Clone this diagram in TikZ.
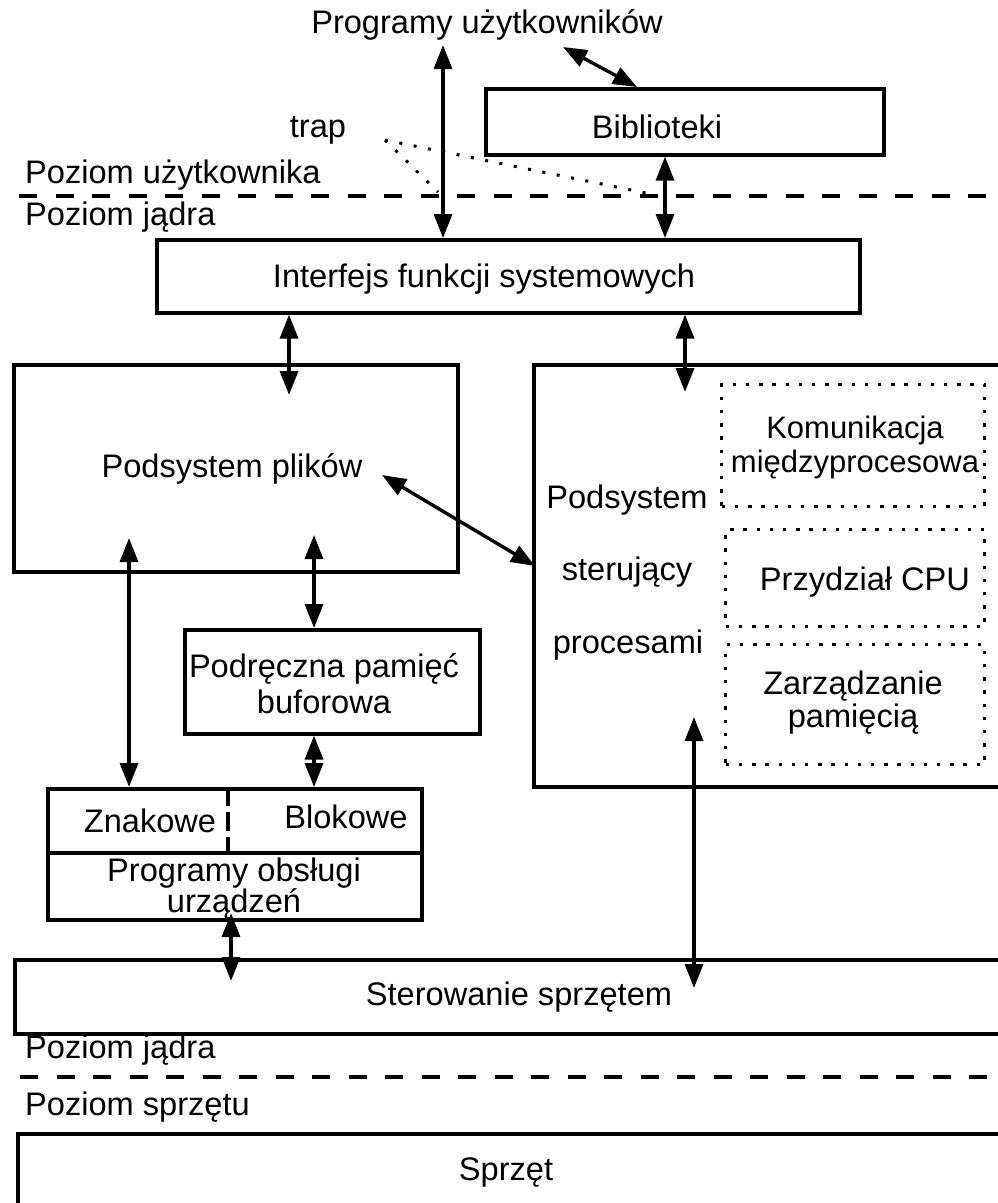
\documentclass[tikz,border=0pt]{standalone}
\usepackage{fontspec}
\setmainfont{Liberation Sans}
\usetikzlibrary{arrows.meta}
\usetikzlibrary{positioning}

\tikzset{
  box/.style={draw,line width=3.6pt,inner sep=0pt,anchor=north west},
  dotbox/.style={draw,line width=3.4pt,dash pattern=on 3.4pt off 9.8pt,inner sep=0pt,anchor=north west},
  level/.style={line width=3.6pt,dash pattern=on 18pt off 18.5pt},
  trapline/.style={line width=3pt,dash pattern=on 3pt off 11.6pt},
  both/.style={line width=3.4pt,{Triangle[length=24pt,width=18pt]}-{Triangle[length=24pt,width=18pt]}},
  lbl/.style={font=\fontsize{32.6}{36}\selectfont,inner sep=0pt,anchor=base},
  txt/.style={font=\fontsize{32.6}{36}\selectfont,inner sep=0pt,align=center},
}

\begin{document}
\begin{tikzpicture}[x=1pt,y=-1pt]
  \useasboundingbox (0,0) rectangle (998,1203);
  \clip (0,0) rectangle (998,1203);

  % poziom uzytkownika
  \node[lbl] (users) at (487,33) {Programy użytkowników};
  \node[box,minimum width=398,minimum height=66] (lib) at (484,87) {};
  \node[lbl] (libtxt) at (657,138) {Biblioteki};
  \node[lbl] (trap) at (318,137) {trap};
  \node[lbl,anchor=base west] (lvlusr) at (25,183) {Poziom użytkownika};
  \node[lbl,anchor=base west] (lvlkrn) at (25,225) {Poziom jądra};
  \coordinate (cutA) at (19,196);
  \coordinate (cutB) at (1000,196);
  \draw[level] (cutA) -- (cutB);

  % trap
  \coordinate (trapend) at (385,140);
  \coordinate (trapA) at (438,192);
  \coordinate (trapB) at (651,194);
  \draw[trapline] (trapend) -- (trapA);
  \draw[trapline] (trapend) -- (trapB);

  \node[box,minimum width=703,minimum height=73] (intf) at (155,238) {};
  \node[lbl] (intftxt) at (484,287) {Interfejs funkcji systemowych};

  % podsystem plikow
  \node[box,minimum width=444,minimum height=207] (fs) at (12,363) {};
  \node[lbl] (fstxt) at (232,477) {Podsystem plików};
  \node[box,minimum width=295,minimum height=104] (buf) at (183,628) {};
  \node[txt,font=\fontsize{32.6}{36}\selectfont] (buftxt) at (324,684) {Podręczna pamięć\\buforowa};

  % programy obslugi urzadzen
  \node[box,minimum width=374,minimum height=131] (drv) at (46,787) {};
  \coordinate (drvmid) at (46,853);
  \draw[line width=3.6pt] (drvmid) -- (drvmid -| drv.east);
  \coordinate (drvsep) at (228,787);
  \draw[line width=3.6pt,dash pattern=on 19pt off 6pt] (drvsep) -- (drvsep |- drvmid);
  \node[lbl] (chr) at (150,832) {Znakowe};
  \node[lbl] (blk) at (346,828) {Blokowe};
  \node[txt,font=\fontsize{32.6}{31}\selectfont] (drvtxt) at (234,889) {Programy obsługi\\urządzeń};

  % podsystem sterujacy procesami
  \node[box,minimum width=480,minimum height=422] (proc) at (532,363) {};
  \node[lbl] (proc1) at (627,508) {Podsystem};
  \node[lbl] (proc2) at (627,580) {sterujący};
  \node[lbl] (proc3) at (628,653) {procesami};
  \node[dotbox,minimum width=263,minimum height=122] (ipc) at (720,383) {};
  \node[txt,font=\fontsize{31}{34}\selectfont] (ipctxt) at (855,447) {Komunikacja\\międzyprocesowa};
  \node[dotbox,minimum width=259,minimum height=97] (cpu) at (724,528) {};
  \node[lbl] (cputxt) at (865,590) {Przydział CPU};
  \node[dotbox,minimum width=259,minimum height=120] (mem) at (724,643) {};
  \node[txt,font=\fontsize{32.6}{33}\selectfont] (memtxt) at (853,703) {Zarządzanie\\pamięcią};

  % sprzet
  \node[box,minimum width=1000,minimum height=74] (ctl) at (13,958) {};
  \node[lbl] (ctltxt) at (519,1005) {Sterowanie sprzętem};
  \node[lbl,anchor=base west] (lvlkrn2) at (25,1058) {Poziom jądra};
  \coordinate (cutC) at (20,1077);
  \coordinate (cutD) at (1000,1077);
  \draw[level] (cutC) -- (cutD);
  \node[lbl,anchor=base west] (lvlhw) at (25,1115) {Poziom sprzętu};
  \node[box,minimum width=1000,minimum height=100] (hw) at (16,1132) {};
  \node[lbl] (hwtxt) at (506,1180) {Sprzęt};

  % polaczenia
  \coordinate (ua) at (443,45);
  \coordinate (ub) at (563,47);
  \coordinate (libin) at (637,87);
  \coordinate (xlib) at (665,0);
  \coordinate (fsin) at (289,395);
  \coordinate (procin) at (685,392);
  \coordinate (fsmid) at (382,475);
  \coordinate (procside) at (535,566);
  \coordinate (fschr) at (129,538);
  \coordinate (fsblk) at (314,535);
  \coordinate (drvin) at (231,913);
  \coordinate (ctlin) at (231,981);
  \coordinate (memin) at (694,717);
  \coordinate (ctlin2) at (694,988);

  \draw[both] (ua) -- (ua |- intf.north);
  \draw[both] (ub) -- (libin);
  \draw[both] (xlib |- lib.south) -- (xlib |- intf.north);
  \draw[both] (fsin |- intf.south) -- (fsin);
  \draw[both] (procin |- intf.south) -- (procin);
  \draw[both] (fsmid) -- (procside);
  \draw[both] (fschr) -- (fschr |- drv.north);
  \draw[both] (fsblk) -- (fsblk |- buf.north);
  \draw[both] (fsblk |- buf.south) -- (fsblk |- drv.north);
  \draw[both] (drvin) -- (ctlin);
  \draw[both] (memin) -- (ctlin2);
\end{tikzpicture}
\end{document}
